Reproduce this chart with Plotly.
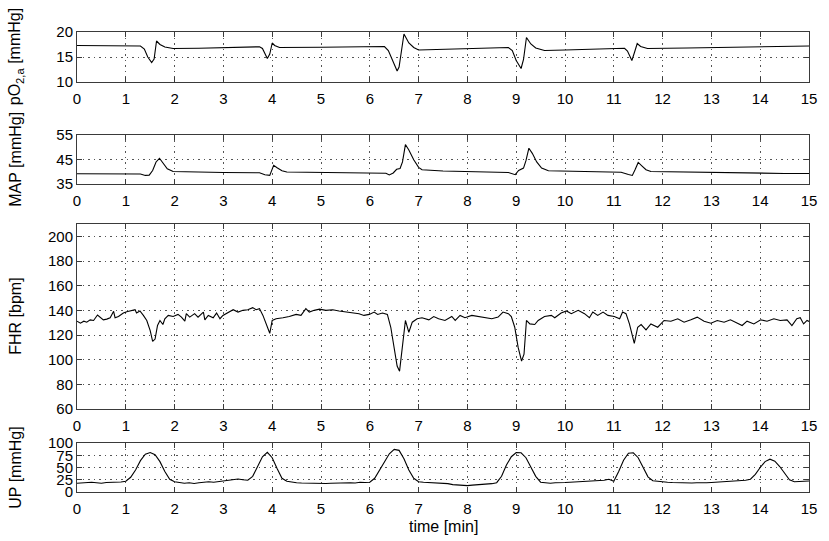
import plotly.graph_objects as go

# ---------------- data ----------------
po2_t = [0.0, 1.2, 1.3, 1.38, 1.45, 1.53, 1.58, 1.63, 1.7, 1.8, 1.97, 2.5, 3.0, 3.5, 3.74,
         3.8, 3.86, 3.9, 3.95, 4.0, 4.05, 4.15, 5.0, 6.0, 6.3, 6.38, 6.45, 6.56, 6.6, 6.64,
         6.7, 6.8, 6.9, 7.0, 7.5, 8.0, 8.5, 8.84, 8.92, 9.0, 9.1, 9.15, 9.21, 9.3, 9.4, 9.58,
         10.0, 10.5, 11.0, 11.22, 11.28, 11.37, 11.42, 11.48, 11.55, 11.69, 12.5, 13.5, 14.4,
         14.45, 14.5, 15.0]
po2_v = [17.3, 17.3, 17.2, 16.6, 15.0, 13.9, 14.6, 18.2, 17.5, 17.0, 16.7, 16.75, 16.85, 16.95, 17.05,
         16.7, 15.4, 14.7, 15.6, 17.8, 17.3, 16.9, 16.95, 17.05, 17.1, 16.3, 14.6, 12.2, 13.0, 16.0,
         19.6, 17.8, 16.9, 16.4, 16.5, 16.65, 16.8, 16.9, 16.3, 14.3, 12.7, 14.5, 18.9, 17.6, 16.8, 16.3,
         16.4, 16.55, 16.7, 16.75, 16.2, 14.3, 15.8, 17.7, 17.1, 16.7, 16.8, 16.95, 17.1,
         17.0, 17.1, 17.2]

map_t = [0.0, 1.3, 1.4, 1.48, 1.55, 1.62, 1.69, 1.75, 1.85, 1.97, 2.5, 3.0, 3.74, 3.85, 3.95,
         3.99, 4.03, 4.1, 4.2, 4.3, 5.0, 6.0, 6.33, 6.4, 6.48, 6.55, 6.62, 6.67, 6.73, 6.8, 6.9,
         7.0, 7.07, 7.5, 8.0, 8.5, 8.84, 8.98, 9.05, 9.15, 9.2, 9.26, 9.33, 9.42, 9.52, 9.66,
         10.0, 10.5, 11.15, 11.3, 11.38, 11.44, 11.5, 11.58, 11.66, 11.76, 12.5, 13.5, 14.0,
         14.5, 15.0]
map_v = [39.2, 39.1, 38.5, 38.6, 40.5, 44.0, 45.5, 43.8, 41.2, 40.1, 39.8, 39.7, 39.6, 38.8, 38.5,
         40.5, 42.6, 41.6, 40.4, 39.9, 39.7, 39.6, 39.4, 38.7, 39.5, 41.0, 41.3, 44.0, 51.1, 48.9, 44.9,
         41.8, 40.8, 40.3, 40.1, 39.9, 39.7, 38.8, 40.5, 41.5, 44.5, 49.6, 47.5, 44.0, 41.5, 40.4,
         40.2, 40.1, 39.8, 38.9, 38.5, 41.0, 43.8, 42.3, 40.8, 40.1, 39.8, 39.6, 39.4,
         39.3, 39.3]

fhr_t = [0.0, 0.07, 0.14, 0.2, 0.27, 0.34, 0.42, 0.48, 0.54, 0.61, 0.68, 0.75, 0.78, 0.85,
         0.95, 1.02, 1.12, 1.19, 1.22, 1.29, 1.36, 1.43, 1.5, 1.55, 1.6, 1.65, 1.7, 1.76, 1.8,
         1.87, 1.97, 2.07, 2.14, 2.21, 2.24, 2.31, 2.41, 2.48, 2.59, 2.62, 2.69, 2.79, 2.86,
         2.93, 2.99, 3.1, 3.2, 3.3, 3.4, 3.5, 3.6, 3.67, 3.74, 3.81, 3.88, 3.95, 4.0, 4.08,
         4.22, 4.35, 4.49, 4.59, 4.69, 4.76, 4.86, 4.97, 5.1, 5.24, 5.37, 5.51, 5.65, 5.78,
         5.88, 5.99, 6.09, 6.16, 6.26, 6.36, 6.43, 6.5, 6.56, 6.61, 6.67, 6.73, 6.8, 6.87,
         6.97, 7.07, 7.21, 7.31, 7.41, 7.54, 7.68, 7.75, 7.85, 7.95, 8.09, 8.22, 8.36, 8.5,
         8.63, 8.73, 8.84, 8.9, 8.97, 9.04, 9.11, 9.16, 9.21, 9.28, 9.38, 9.45, 9.58, 9.72,
         9.79, 9.92, 10.03, 10.13, 10.27, 10.4, 10.5, 10.57, 10.67, 10.78, 10.88, 11.01,
         11.12, 11.18, 11.25, 11.32, 11.42, 11.49, 11.56, 11.66, 11.76, 11.9, 12.03, 12.17,
         12.31, 12.44, 12.58, 12.71, 12.85, 12.99, 13.12, 13.26, 13.39, 13.53, 13.63, 13.73,
         13.87, 14.01, 14.14, 14.28, 14.41, 14.55, 14.65, 14.75, 14.82, 14.89, 14.96, 15.0]
fhr_v = [131.2, 129.6, 131.2, 130.4, 132.3, 131.8, 136.2, 134.0, 132.3, 132.9, 134.0, 139.2, 134.0, 135.0,
         137.8, 138.9, 140.0, 140.5, 137.8, 139.5, 135.9, 131.8, 123.6, 114.8, 116.7, 127.7, 131.8, 128.5, 133.2,
         135.9, 135.0, 136.7, 134.5, 131.2, 137.3, 134.5, 137.3, 134.5, 138.6, 132.3, 135.9, 134.0, 137.8,
         133.2, 135.9, 138.6, 140.5, 138.6, 140.0, 140.5, 142.2, 140.5, 141.4, 135.9, 129.0, 121.4, 131.8, 133.2,
         134.0, 135.0, 136.7, 135.9, 141.4, 138.6, 140.0, 141.0, 140.0, 140.5, 139.5, 138.6, 137.8, 137.3,
         135.9, 136.7, 138.6, 136.7, 137.8, 136.7, 126.3, 109.9, 94.8, 90.7, 112.6, 131.8, 122.2, 130.4,
         133.2, 134.0, 132.3, 135.0, 133.2, 131.8, 135.0, 131.8, 135.9, 134.0, 135.9, 135.0, 134.0, 133.2,
         134.5, 138.6, 137.3, 135.0, 126.3, 109.9, 98.9, 104.4, 131.8, 129.0, 128.5, 131.8, 135.0, 135.9,
         134.0, 137.8, 139.5, 137.3, 140.0, 137.3, 134.0, 138.6, 135.9, 138.6, 135.9, 135.0,
         133.2, 138.6, 137.3, 129.0, 113.2, 126.3, 128.5, 124.1, 129.0, 126.3, 131.8, 131.2,
         133.2, 130.4, 132.3, 134.5, 131.2, 129.6, 131.8, 130.4, 132.3, 129.6, 127.7, 131.2,
         129.0, 132.3, 131.2, 133.2, 131.8, 132.3, 127.7, 133.2, 134.0, 129.0, 131.8, 131.0]

up_t = [round(0.1 * i, 1) for i in range(151)]
up_v = [18.0, 19.0, 18.5, 20.0, 19.0, 18.0, 19.5, 20.0, 19.0, 20.5,
        22.0, 30.0, 45.0, 64.0, 77.0, 80.5, 76.0, 62.0, 42.0, 26.0,
        21.0, 20.0, 18.0, 19.0, 17.5, 19.0, 20.0, 21.0, 20.0, 21.5,
        22.5, 24.0, 25.0, 26.5, 25.0, 24.0, 32.0, 52.0, 72.0, 81.0,
        70.0, 48.0, 28.0, 22.0, 20.0, 19.0, 18.5, 18.0, 17.5, 18.0,
        17.0, 17.5, 18.0, 18.5, 17.5, 18.0, 19.0, 18.5, 20.0, 19.5,
        20.0, 28.0, 45.0, 63.0, 78.0, 87.0, 85.0, 68.0, 45.0, 28.0,
        21.0, 20.0, 19.5, 19.0, 19.5, 18.5, 17.0, 15.0, 14.0, 13.5,
        13.0, 14.0, 14.5, 15.5, 16.5, 17.0, 19.0, 32.0, 55.0, 72.0,
        80.5, 80.0, 70.0, 52.0, 32.0, 20.0, 18.5, 18.0, 19.0, 18.5,
        19.5, 20.0, 20.5, 21.0, 21.5, 22.0, 22.5, 23.0, 24.0, 26.0,
        22.0, 42.0, 65.0, 79.0, 80.0, 70.0, 50.0, 31.0, 23.0, 21.5,
        20.5, 20.0, 19.5, 19.0, 19.5, 19.0, 18.5, 19.0, 18.5, 19.0,
        19.5, 20.0, 21.0, 21.5, 22.5, 22.5, 23.0, 24.0, 26.0, 36.0,
        50.0, 62.0, 67.0, 63.0, 52.0, 38.0, 25.0, 21.0, 22.0, 22.5,
        22.5]

x_ticks = list(range(0, 16))
po2_ticks = [10, 15, 20]
map_ticks = [35, 45, 55]
fhr_ticks = [60, 80, 100, 120, 140, 160, 180, 200]
up_ticks = [0, 25, 50, 75, 100]

y_titles = ["pO<sub>2,a</sub> [mmHg]", "MAP [mmHg]", "FHR [bpm]", "UP [mmHg]"]
x_title = "time [min]"

# ---------------- figure ----------------
FONT = "Liberation Sans, Arial, Helvetica, sans-serif"
AX = "#3a3a3a"
GRID = "#555555"

fig = go.Figure()
series = [(po2_t, po2_v), (map_t, map_v), (fhr_t, fhr_v), (up_t, up_v)]
for i, (tx, vy) in enumerate(series):
    sfx = "" if i == 0 else str(i + 1)
    fig.add_trace(go.Scatter(x=tx, y=vy, mode="lines", line=dict(color="black", width=1.1),
                             xaxis="x" + sfx, yaxis="y" + sfx, showlegend=False))

domains = [[0.8913, 1.0], [0.6696, 0.7761], [0.1804, 0.5826], [0.0, 0.1065]]
yranges = [[10, 20], [35, 55], [60, 210], [0, 100]]
yticks = [po2_ticks, map_ticks, fhr_ticks, up_ticks]

common = dict(showline=True, linecolor=AX, linewidth=1, mirror="ticks", ticks="inside",
              ticklen=5, tickcolor=AX, showgrid=True, gridcolor=GRID, griddash="1.5px,4px",
              gridwidth=1, zeroline=False, tickfont=dict(family=FONT, size=15, color="black"))

layout = dict(width=829, height=541, margin=dict(l=77, r=17, t=32, b=49),
              paper_bgcolor="white", plot_bgcolor="white",
              font=dict(family=FONT, size=15, color="black"))
for i in range(4):
    sfx = "" if i == 0 else str(i + 1)
    layout["xaxis" + sfx] = dict(common, domain=[0, 1], anchor="y" + sfx, range=[0, 15],
                                 tickvals=x_ticks, ticktext=[str(v) for v in x_ticks],
                                 ticklabelstandoff=3)
    layout["yaxis" + sfx] = dict(common, domain=domains[i], anchor="x" + sfx, range=yranges[i],
                                 tickvals=yticks[i], ticktext=[str(v) for v in yticks[i]])
fig.update_layout(**layout)

annotations = []
for i, title in enumerate(y_titles):
    yc = (domains[i][0] + domains[i][1]) / 2
    annotations.append(dict(text=title, xref="paper", yref="paper", x=-0.0844, y=yc,
                            xanchor="center", yanchor="middle", textangle=-90, showarrow=False,
                            font=dict(family=FONT, size=16, color="black")))
annotations.append(dict(text=x_title, xref="paper", yref="paper", x=0.5, y=-0.076,
                        xanchor="center", yanchor="middle", showarrow=False,
                        font=dict(family=FONT, size=16, color="black")))
fig.update_layout(annotations=annotations)

fig.write_html("out.html", config={"displayModeBar": False},
               post_script="document.body.style.margin='0';document.body.style.overflow='hidden';")
